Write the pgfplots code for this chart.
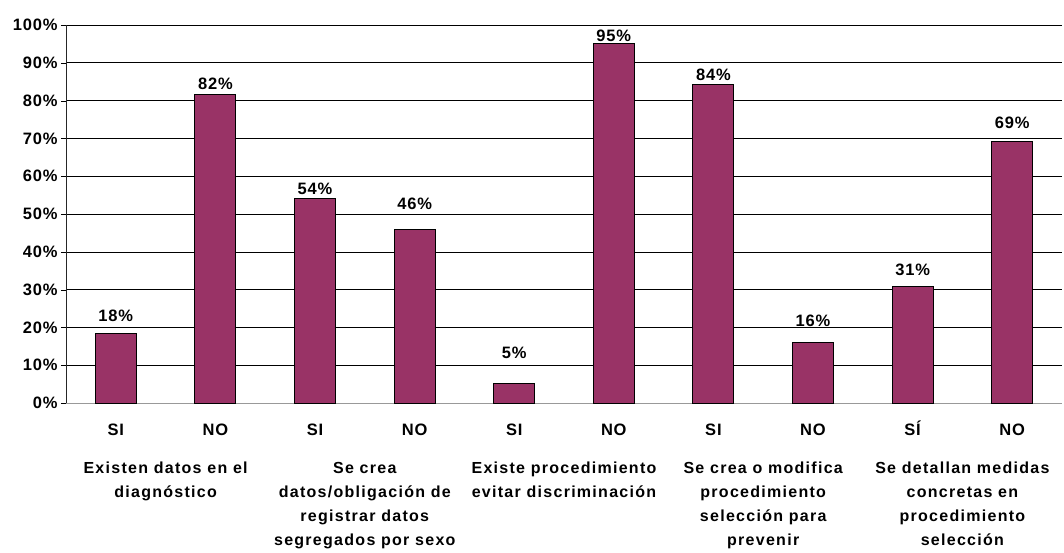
\documentclass[border=0pt]{standalone}
\usepackage{pgfplots}
\usepackage{pgfplotstable}
\pgfplotsset{compat=1.18}
\usepackage{fontspec}
\setmainfont{Liberation Sans}
\newfontfamily\grpfont[LetterSpace=8]{Liberation Sans}
\newfontfamily\tickfont[LetterSpace=5]{Liberation Sans}
\definecolor{barcol}{HTML}{993366}

% y = share in percent, off = extra lift of the value label (pt)
\pgfplotstableread{
x y off
0 18.4 8
1 81.7 1
2 54.2 0
3 45.8 16
4 5.2 21
5 95.1 -2
6 84.3 0
7 15.9 12
8 30.8 7
9 69.1 9
}\datatable

\begin{document}
\begin{tikzpicture}
\begin{axis}[
    at={(0pt,0pt)}, anchor=south west,
    scale only axis,
    width=996pt, height=378pt,
    ybar, bar width=41pt,
    xmin=-0.5, xmax=9.5,
    ymin=0, ymax=100,
    xtick={0,...,9},
    xticklabels={SI,NO,SI,NO,SI,NO,SI,NO,SÍ,NO},
    ytick={0,10,...,100},
    yticklabel={\pgfmathprintnumber{\tick}\%},
    /pgf/number format/assume math mode=true,
    axis x line*=bottom, axis y line*=left,
    axis line style={-},
    x axis line style={gray!80},
    y axis line style={black!85},
    ymajorgrids,
    grid style={black, line width=0.6pt},
    tick align=outside,
    major tick length=5pt,
    xtick style={draw=none},
    ytick style={black},
    ticklabel style={font=\tickfont\bfseries\fontsize{16.5}{19}\selectfont},
    xticklabel style={anchor=base, yshift=-27pt},
    clip=false,
]
\addplot[fill=barcol, draw=black, line width=1pt,
    visualization depends on={\thisrow{off}\as\myoff},
    nodes near coords={\pgfmathprintnumber[fixed,precision=0]{\pgfplotspointmeta}\%},
    every node near coord/.append style={font=\tickfont\bfseries\fontsize{16.5}{19}\selectfont,
        /pgf/number format/assume math mode=true, yshift=\myoff},
] table[x=x, y=y] {\datatable};
\begin{scope}[every node/.style={font=\grpfont\bfseries\fontsize{16}{24}\selectfont, align=center, anchor=north, inner sep=0pt, yshift=-59pt}]
\node at (axis cs:0.5,0) {Existen datos en el\\diagnóstico};
\node at (axis cs:2.5,0) {Se crea\\datos/obligación de\\registrar datos\\segregados por sexo};
\node at (axis cs:4.5,0) {Existe procedimiento\\evitar discriminación};
\node at (axis cs:6.5,0) {Se crea o modifica\\procedimiento\\selección para\\prevenir};
\node at (axis cs:8.5,0) {Se detallan medidas\\concretas en\\procedimiento\\selección};
\end{scope}
\end{axis}
\pgfresetboundingbox
\path[use as bounding box] (-66pt,-149pt) rectangle (998pt,403pt);
\end{tikzpicture}
\end{document}
